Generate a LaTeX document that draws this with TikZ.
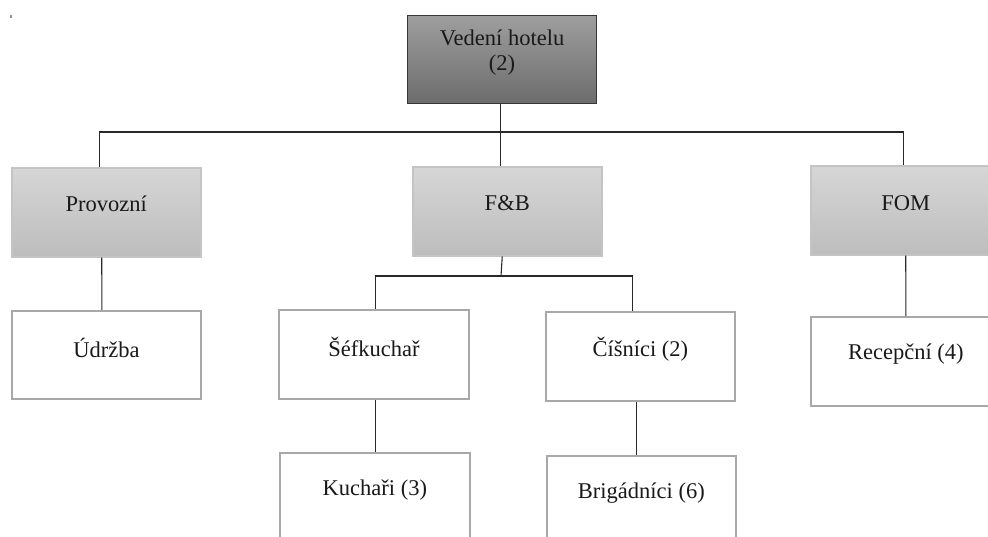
\documentclass[tikz,border=0pt]{standalone}
\usepackage{fontspec}
\setmainfont{Liberation Serif}
\begin{document}
\begin{tikzpicture}[x=1pt,y=-1pt,
  every node/.style={font=\fontsize{22.5}{25}\selectfont, text=black!90},
  headbox/.style={draw={rgb,255:red,55;green,55;blue,55}, line width=1.2pt,
    top color={rgb,255:red,158;green,158;blue,158},
    bottom color={rgb,255:red,108;green,108;blue,108},
    anchor=north west, inner sep=0pt},
  deptbox/.style={draw={rgb,255:red,196;green,196;blue,196}, line width=1.5pt,
    top color={rgb,255:red,214;green,214;blue,214},
    bottom color={rgb,255:red,189;green,189;blue,189},
    anchor=north west, inner sep=0pt},
  staffbox/.style={draw={rgb,255:red,168;green,168;blue,168}, line width=1.8pt,
    fill=white, anchor=north west, inner sep=0pt},
  txt/.style={inner sep=0pt, align=center},
  conn/.style={draw={rgb,255:red,40;green,40;blue,40}, line width=1.1pt}
]
\useasboundingbox (0,0) rectangle (988,536);
\clip (0,0) rectangle (988,536);

% stray mark in the corner
\fill[gray!85] (10.3,14.8) rectangle (11.7,17.8);

% boxes
\node[headbox,  minimum width=189, minimum height=88] (top)  at (407,15)  {};
\node[deptbox,  minimum width=189, minimum height=89] (prov) at (11,167)  {};
\node[deptbox,  minimum width=189, minimum height=89] (fb)   at (412,166) {};
\node[deptbox,  minimum width=190, minimum height=89] (fom)  at (810,165) {};
\node[staffbox, minimum width=189, minimum height=88] (udr)  at (11,310)  {};
\node[staffbox, minimum width=190, minimum height=89] (sef)  at (278,309) {};
\node[staffbox, minimum width=189, minimum height=89] (cis)  at (545,311) {};
\node[staffbox, minimum width=190, minimum height=89] (rec)  at (810,316) {};
\node[staffbox, minimum width=190, minimum height=90] (kuch) at (279,452) {};
\node[staffbox, minimum width=189, minimum height=90] (brig) at (546,455) {};

% texts, set a little above each box centre
\node[txt] (top-t)  at ([yshift=7]top.center)  {Vedení hotelu\\(2)};
\node[txt] (prov-t) at ([yshift=8]prov.center) {Provozní};
\node[txt] (fb-t)   at ([yshift=8]fb.center)   {F\&B};
\node[txt] (fom-t)  at ([yshift=7]fom.center)  {FOM};
\node[txt] (udr-t)  at ([yshift=7]udr.center)  {Údržba};
\node[txt] (sef-t)  at ([yshift=7]sef.center)  {Šéfkuchař};
\node[txt] (cis-t)  at ([yshift=7]cis.center)  {Číšníci (2)};
\node[txt] (rec-t)  at ([yshift=7]rec.center)  {Recepční (4)};
\node[txt] (kuch-t) at ([yshift=8]kuch.center) {Kuchaři (3)};
\node[txt] (brig-t) at ([yshift=8]brig.center) {Brigádníci (6)};

% connector buses
\coordinate (bus)   at (500,132);
\coordinate (fbbus) at (501,276);

% top level
\draw[conn] ([xshift=-2]top.south) -- ([xshift=-2]top.south |- fb.north);
\draw[conn] ([xshift=-7]prov.north) |- (bus) -| ([xshift=-2]fom.north);

% departments to staff
\draw[conn] ([xshift=-4.5]prov.south) -- ([xshift=-4.5]udr.north);
\draw[conn] ([xshift=-5]fb.south) -- (fbbus);
\draw[conn] ([xshift=2]sef.north) |- (fbbus) -| ([xshift=-7.5]cis.north);
\draw[conn] (fom.south) -- (rec.north);
\draw[conn] ([xshift=2]sef.south) -- ([xshift=1]kuch.north);
\draw[conn] ([xshift=-4]cis.south) -- ([xshift=-5]brig.north);
\end{tikzpicture}
\end{document}
